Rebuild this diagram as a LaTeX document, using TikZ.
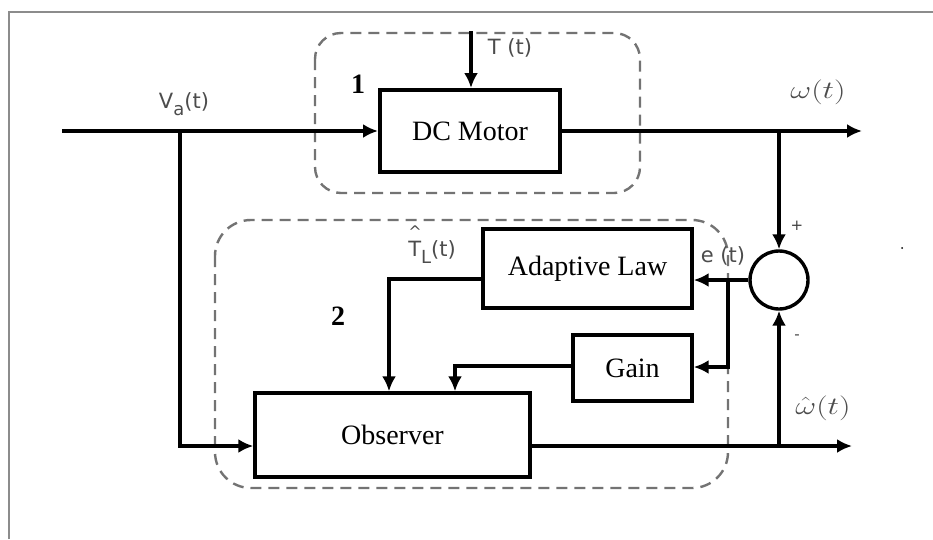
\documentclass[tikz,border=0pt]{standalone}
\usepackage{fontspec}
\setmainfont{Liberation Serif}
\newfontfamily\labfont{DejaVu Sans}
\usetikzlibrary{arrows.meta,calc}
\tikzset{
  blk/.style={draw=black, line width=3.4pt, fill=white, inner sep=0pt,
    font=\fontsize{28}{32}\selectfont},
  sig/.style={line width=3.2pt, draw=black},
  arr/.style={sig, -{Latex[length=15pt,width=14pt]}},
  grp/.style={draw=black!55, line width=2.4pt, dash pattern=on 11pt off 7pt},
  lab/.style={text=black!70, font=\labfont\fontsize{21}{24}\selectfont, inner sep=0pt},
  mlab/.style={text=black!70, inner sep=0pt, font=\fontsize{24}{26}\selectfont},
  num/.style={font=\bfseries\fontsize{28}{30}\selectfont, inner sep=0pt},
  pm/.style={font=\labfont\fontsize{15}{16}\selectfont, text=black!75, inner sep=0pt}
}
\begin{document}
\begin{tikzpicture}[x=1pt,y=-1pt]
\useasboundingbox (0,0) rectangle (933,539);
% frame
\draw[black!45, line width=1.8pt] (9,539) -- (9,12) -- (933,12);
% group boxes
\draw[grp, rounded corners=26pt] (315,33) rectangle (640,193);
\draw[grp, rounded corners=36pt] (215,220) rectangle (728,488);
% blocks
\node[blk, line width=4pt, minimum width=180pt, minimum height=82pt] (dc) at (470,131) {DC Motor};
\node[blk, minimum width=209pt, minimum height=79pt] (ad) at (587.5,268.5) {Adaptive Law};
\node[blk, minimum width=119pt, minimum height=66pt] (gain) at (632.5,368) {Gain};
\node[blk, minimum width=275pt, minimum height=84pt] (obs) at (392.5,435) {Observer};
\node[draw=black, line width=3.4pt, circle, minimum size=58pt, inner sep=0pt] (sum) at (779,280) {};
% coordinates
\coordinate (in) at (62,131);
\coordinate (va) at (180,131);
\coordinate (wout) at (862,131);
\coordinate (wbr) at (779,131);
\coordinate (ttop) at (471,31);
\coordinate (ebr) at (728,280);
\coordinate (whout) at (852,446);
\coordinate (whbr) at (779,446);
% connectors
\draw[arr] (in) -- (dc.west);
\draw[arr] (ttop) -- (ttop |- dc.north);
\draw[arr] (dc.east) -- (wout);
\draw[arr] (wbr) -- (sum.north);
\draw[arr] (sum.west) -- (sum.west -| ad.east);
\draw[arr] (ebr) -- (728,367) -- (gain.east |- 0,367);
\draw[arr] (ad.west |- 0,279) -- (389,279) -- (389,0 |- obs.north);
\draw[arr] (gain.west |- 0,366) -- (455,366) -- (455,0 |- obs.north);
\draw[arr] (va) -- (180,446) -- (obs.west |- 0,446);
\draw[arr] (obs.east |- 0,446) -- (whout);
\draw[arr] (whbr) -- (sum.south);
% labels
\node[lab] (lva) at (184,104) {V\lower7pt\hbox{\fontsize{18}{18}\selectfont a}(t)};
\node[lab] (lt) at (510,48) {T (t)};
\node[mlab] (lw) at (818,92) {\scalebox{1.3}[1]{$\omega(t)$}};
\node[mlab] (lwh) at (823,408) {\scalebox{1.3}[1]{$\hat{\omega}(t)$}};
\node[lab] (le) at (723,256) {e (t)};
\node[lab] (ltl) at (432,245) {\rlap{\raisebox{19pt}{\fontsize{16}{16}\selectfont\^{}}}T\lower7pt\hbox{\fontsize{18}{18}\selectfont L}(t)};
\node[num] (n1) at (358,84) {1};
\node[num] (n2) at (338,316) {2};
\node[pm] (lp) at (797,226) {+};
\node[pm] (lm) at (797,337) {-};
\fill (902,248) circle (1pt);
\end{tikzpicture}
\end{document}
